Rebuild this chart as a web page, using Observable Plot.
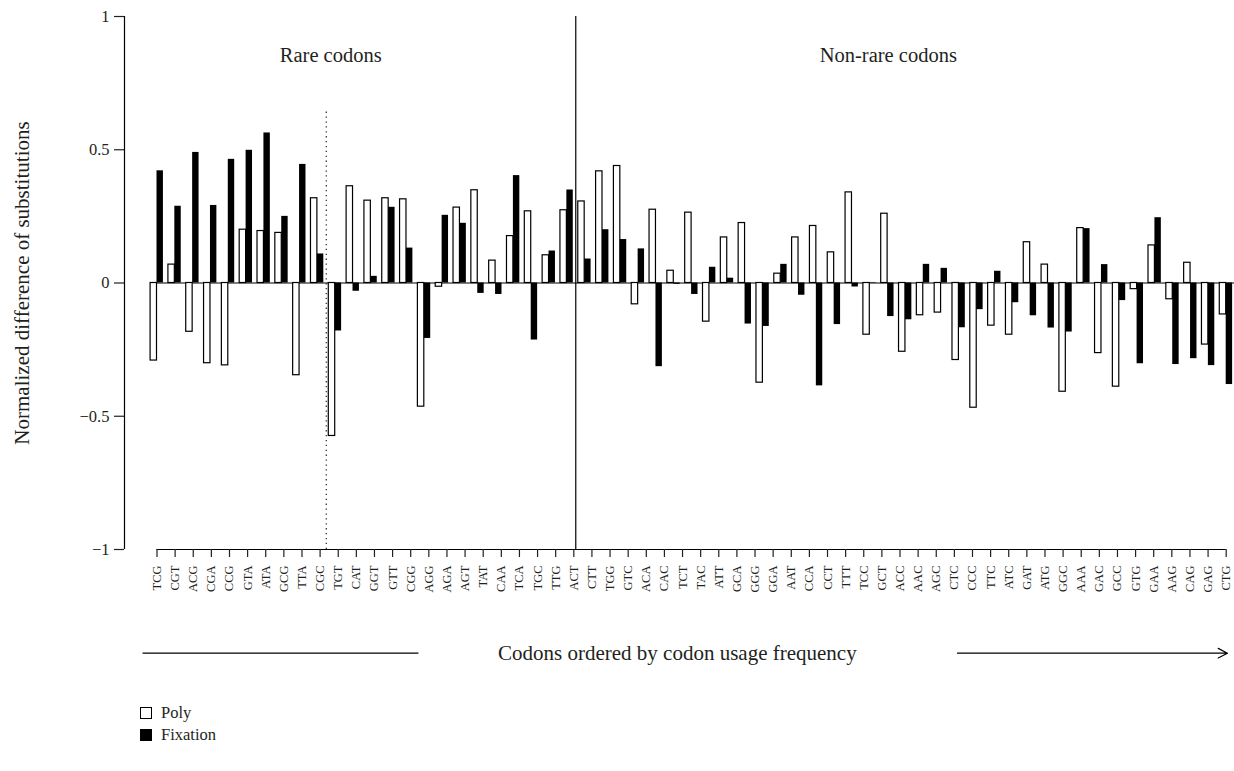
<!DOCTYPE html>
<html><head><meta charset="utf-8">
<script src="https://cdn.jsdelivr.net/npm/d3@7"></script>
<script src="https://cdn.jsdelivr.net/npm/@observablehq/plot@0.6"></script>
<style>
body{margin:0;background:#fff;font-family:"Liberation Serif",serif;color:#231f20}
#legend{margin-left:140px;padding-top:12px;font-size:16.5px}
.row{display:flex;align-items:center;height:22px}
.sw{width:10px;height:10px;border:1px solid #000;margin-right:9px;box-sizing:content-box}
</style></head><body>
<div id="chart"></div>
<div id="legend"></div>
<script>
// Tick labels as printed (60 labels; the figure draws 61 bar pairs)
const codonLabels = ["TCG","CGT","ACG","CGA","CCG","GTA","ATA","GCG","TTA","CGC","TGT","CAT","GGT","GTT","CGG","AGG","AGA","AGT","TAT","CAA","TCA","TGC","TTG","ACT","CTT","TGG","GTC","ACA","CAC","TCT","TAC","ATT","GCA","GGG","GGA","AAT","CCA","CCT","TTT","TCC","GCT","ACC","AAC","AGC","CTC","CCC","TTC","ATC","GAT","ATG","GGC","AAA","GAC","GCC","GTG","GAA","AAG","CAG","GAG","CTG"];
// Bar values, in drawing order (61 pairs)
const poly = [-0.291,0.069,-0.183,-0.301,-0.309,0.200,0.195,0.188,-0.346,0.318,
  -0.574,0.363,0.309,0.318,0.314,-0.464,-0.014,0.283,0.348,0.084,
  0.176,0.269,0.104,0.273,0.306,0.419,0.439,-0.080,0.275,0.046,
  0.264,-0.145,0.171,0.225,-0.374,0.035,0.171,0.214,0.115,0.340,
  -0.194,0.260,-0.258,-0.121,-0.111,-0.289,-0.468,-0.160,-0.194,0.153,
  0.069,-0.408,0.206,-0.263,-0.389,-0.023,0.141,-0.061,0.076,-0.231,-0.118];
const fixation = [0.421,0.288,0.490,0.291,0.464,0.498,0.563,0.250,0.445,0.109,
  -0.180,-0.031,0.025,0.284,0.131,-0.208,0.254,0.224,-0.039,-0.043,
  0.403,-0.214,0.120,0.349,0.090,0.200,0.163,0.128,-0.314,-0.005,
  -0.043,0.059,0.018,-0.154,-0.163,0.070,-0.046,-0.386,-0.156,-0.015,
  0.002,-0.126,-0.138,0.070,0.055,-0.168,-0.100,0.044,-0.074,-0.123,
  -0.169,-0.184,0.204,0.069,-0.066,-0.303,0.245,-0.306,-0.284,-0.310,-0.381];
const yTicks = [-1,-0.5,0,0.5,1];
const yTickLabels = ["\u22121","\u22120.5","0","0.5","1"];
const groupLabels = ["Rare codons","Non-rare codons"];
const seriesNames = ["Poly","Fixation"];
const yTitle = "Normalized difference of substitutions";
const xTitle = "Codons ordered by codon usage frequency";

const n = poly.length;
const bars = poly.map((p, i) => ({i, poly: p, fixation: fixation[i]}));
const half = 0.36;
const xDomain = [-1.824, 60.466];
const tickPos = codonLabels.map((_, j) => j * (n - 1) / (codonLabels.length - 1));
const tickMap = new Map(tickPos.map((p, j) => [p, codonLabels[j]]));
const subRareEdge = (9 + 10) / 2;
const rareEdge = (23 + 24) / 2;
const arrowY = -1.389;

const chart = Plot.plot({
  width: 1234, height: 690,
  marginLeft: 124, marginRight: 0, marginTop: 16, marginBottom: 141,
  style: {fontFamily: "Liberation Serif, serif", fontSize: "12.5px", color: "#231f20", background: "white"},
  x: {domain: xDomain, axis: null},
  y: {domain: [-1, 1], axis: null},
  marks: [
    Plot.ruleY([0], {x1: -half, x2: xDomain[1], stroke: "#000", strokeWidth: 1}),
    Plot.rect(bars, {x1: d => d.i - half, x2: d => d.i, y1: 0, y2: "poly", fill: "white", stroke: "#000", strokeWidth: 1.2}),
    Plot.rect(bars, {x1: d => d.i, x2: d => d.i + half, y1: 0, y2: "fixation", fill: "#000"}),
    Plot.ruleX([subRareEdge], {y1: -1, y2: 0.642, stroke: "#333", strokeWidth: 1.3, strokeDasharray: "1.3,3.6"}),
    Plot.ruleX([rareEdge], {y1: -1, y2: 1, stroke: "#000", strokeWidth: 1.2}),
    Plot.ruleX([xDomain[0]], {y1: -1, y2: 1, stroke: "#000", strokeWidth: 1.2}),
    Plot.axisY(yTicks, {tickSize: 10, tickPadding: 5, tickFormat: () => "", label: null, strokeWidth: 1.2}),
    Plot.text(yTicks, {x: xDomain[0], y: d => d, dx: -15, textAnchor: "end", fontSize: 16.5, text: d => yTickLabels[yTicks.indexOf(d)]}),
    Plot.ruleY([-1], {x1: tickPos[0], x2: tickPos[tickPos.length - 1], stroke: "#000", strokeWidth: 1.2}),
    Plot.axisX(tickPos, {tickSize: 8, tickPadding: 8, tickRotate: -90, tickFormat: d => tickMap.get(d), label: null, strokeWidth: 1.2}),
    Plot.text([groupLabels[0]], {x: 9.75, y: 0.8555, text: d => d, fontSize: 20.5}),
    Plot.text([groupLabels[1]], {x: 41.04, y: 0.8555, text: d => d, fontSize: 20.5}),
    Plot.text([yTitle], {frameAnchor: "left", dx: -102, rotate: -90, textAnchor: "middle", text: d => d, fontSize: 21}),
    Plot.text([xTitle], {x: 29.2, y: arrowY, text: d => d, fontSize: 21}),
    Plot.link([{a: -0.81, b: 14.67}], {x1: "a", x2: "b", y1: arrowY, y2: arrowY, stroke: "#000", strokeWidth: 1.2}),
    Plot.arrow([{a: 44.92, b: 60.07}], {x1: "a", x2: "b", y1: arrowY, y2: arrowY, stroke: "#000", strokeWidth: 1.2, headLength: 13, headAngle: 55})
  ]
});
document.getElementById("chart").appendChild(chart);

const legend = document.getElementById("legend");
const fills = ["white", "#000"];
seriesNames.forEach((name, k) => {
  const row = document.createElement("div");
  row.className = "row";
  const sw = document.createElement("span");
  sw.className = "sw";
  sw.style.background = fills[k];
  row.appendChild(sw);
  row.appendChild(document.createTextNode(name));
  legend.appendChild(row);
});
</script>
</body></html>
